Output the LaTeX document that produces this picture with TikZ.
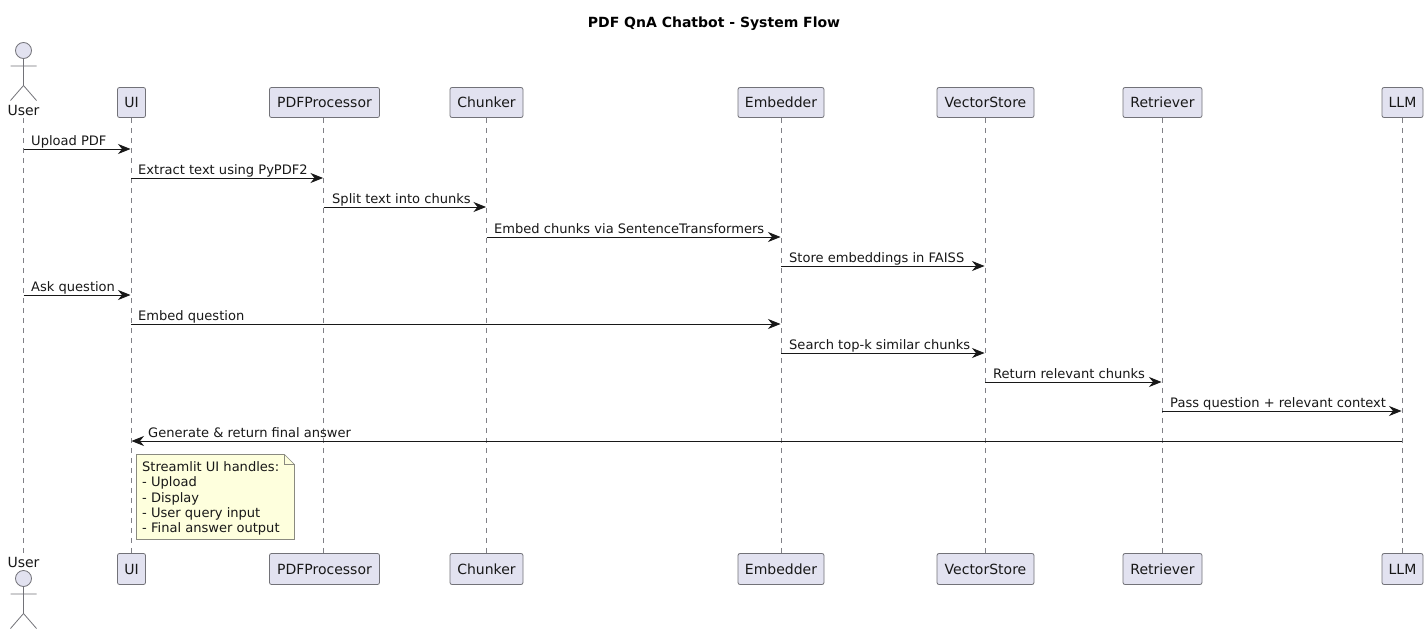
\documentclass[tikz,border=0pt]{standalone}
\usepackage{fontspec}
\setmainfont{DejaVu Sans}
\usetikzlibrary{arrows.meta}
\definecolor{partfill}{HTML}{E2E2F0}
\definecolor{partline}{HTML}{727278}
\definecolor{lifeline}{HTML}{808086}
\definecolor{ink}{HTML}{181818}
\definecolor{notefill}{HTML}{FEFFDD}
\definecolor{noteline}{HTML}{8A8A80}
\newcommand{\plainsize}{\fontsize{13.05}{15.3}\selectfont}
\tikzset{
  x=1pt,y=-1pt,
  part/.style={draw=partline,fill=partfill,rounded corners=2pt,line width=.8pt,inner sep=0pt,text=ink,font=\fontsize{14}{16}\selectfont,minimum height=30pt},
  life/.style={draw=lifeline,line width=.7pt,dash pattern=on 5pt off 5pt},
  msg/.style={draw=ink,line width=.95pt,-{Stealth[length=12.5pt,width=10pt,inset=4pt]},shorten >=.5pt},
  lbl/.style={inner sep=0pt,anchor=base west,text=ink,font=\plainsize},
  actorline/.style={draw=partline,line width=.8pt},
  actorname/.style={inner sep=0pt,anchor=base,text=ink,font=\fontsize{14}{16}\selectfont},
}
\newcommand{\partpair}[5]{% name, x centre, width, text, lifeline x
  \node[part,minimum width=#3pt] (#1T) at (#2,102.5) {#4};
  \node[part,minimum width=#3pt,minimum height=31pt] (#1B) at (#2,569) {#4};
  \coordinate (#1L) at (#5,0);
  \draw[life] (#1T.south -| #1L) -- (#1B.north -| #1L);
}
\newcommand{\actorfig}[1]{% head centre y
  \draw[actorline,fill=partfill] (23.5,#1) circle (8pt);
  \draw[actorline] (23.5,#1+8) -- (23.5,#1+35) (10.5,#1+15.5) -- (36.5,#1+15.5)
    (10.5,#1+50) -- (23.5,#1+35) -- (36.5,#1+50);
}
\newcommand{\msgto}[5]{% from, to, y, text, label x
  \draw[msg] (#1L |- 0,#3) -- (#2L |- 0,#3);
  \node[lbl] at (#5,#3-4) {#4};
}
\begin{document}
\begin{tikzpicture}
\useasboundingbox (0,0) rectangle (1428,634);
\fill[white] (0,0) rectangle (1428,634);
\node[inner sep=0pt,anchor=base,text=black,font=\fontsize{14}{16}\selectfont\bfseries] (title) at (714,28) {PDF QnA Chatbot - System Flow};
% lifelines and participants
\coordinate (userL) at (23.5,0);
\node[actorname] (userT) at (23.5,115) {User};
\node[actorname] (userB) at (23.5,567) {User};
\draw[life] (userT.south -| userL) ++(0,3) -- (userB.north -| userL);
\partpair{ui}{131.5}{28}{UI}{131}
\partpair{pdf}{324.5}{110}{PDFProcessor}{323.5}
\partpair{chunk}{486.5}{73}{Chunker}{486.5}
\partpair{emb}{781}{86}{Embedder}{781}
\partpair{vec}{985.5}{97}{VectorStore}{985}
\partpair{ret}{1162.5}{79}{Retriever}{1162}
\partpair{llm}{1402.5}{41}{LLM}{1402}
\actorfig{50.5}
\actorfig{578.5}
% messages
\msgto{user}{ui}{149}{Upload PDF}{31}
\msgto{ui}{pdf}{178}{Extract text using PyPDF2}{138}
\msgto{pdf}{chunk}{207}{Split text into chunks}{332}
\msgto{chunk}{emb}{237}{Embed chunks via SentenceTransformers}{494}
\msgto{emb}{vec}{266}{Store embeddings in FAISS}{789}
\msgto{user}{ui}{295}{Ask question}{31}
\msgto{ui}{emb}{324}{Embed question}{138}
\msgto{emb}{vec}{353}{Search top-k similar chunks}{789}
\msgto{vec}{ret}{382}{Return relevant chunks}{993}
\msgto{ret}{llm}{411}{Pass question + relevant context}{1170}
\msgto{llm}{ui}{441}{Generate \& return final answer}{148}
% note
\draw[draw=noteline,fill=notefill,line width=.7pt] (136.5,454.5) -- (284.5,454.5) -- (294.5,464.5) -- (294.5,539.5) -- (136.5,539.5) -- cycle;
\draw[draw=noteline,line width=.7pt] (284.5,454.5) -- (284.5,464.5) -- (294.5,464.5);
\node[inner sep=0pt,anchor=north west,align=left,text=ink,font=\plainsize] (note) at (142,461.5) {Streamlit UI handles:\\- Upload\\- Display\\- User query input\\- Final answer output};
\end{tikzpicture}
\end{document}
